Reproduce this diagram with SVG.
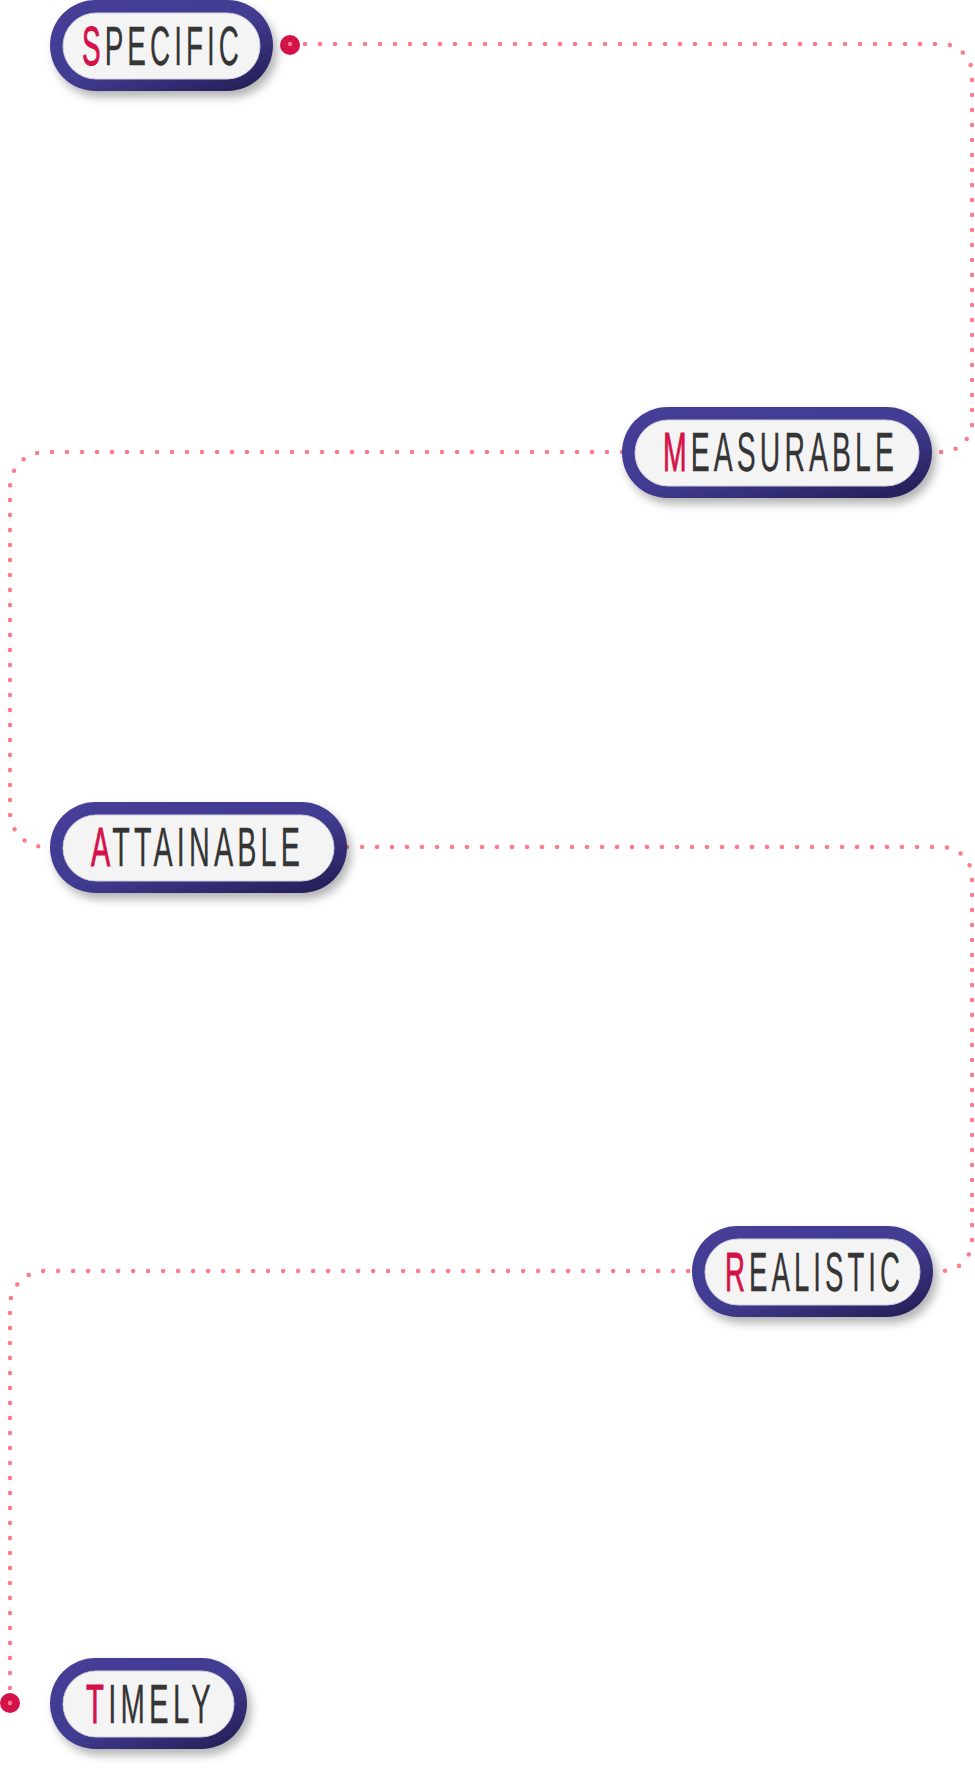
<svg xmlns="http://www.w3.org/2000/svg" width="975" height="1768" viewBox="0 0 975 1768">
<style>
.conn{fill:none;stroke:#ff7a86;stroke-width:4.5;stroke-linecap:round;stroke-dasharray:0 15}
.end{fill:#d4124a}
.ring{fill:url(#ringGrad);filter:url(#shadow)}
.inner{fill:#f4f4f5;stroke:#cfcedb;stroke-width:1}
.lbl{font-family:"Liberation Sans Narrow","Liberation Sans",sans-serif;font-size:55px;fill:#353535;stroke:#353535;stroke-width:0.3;letter-spacing:8px}
.first{fill:#d4124a;stroke:#d4124a;stroke-width:1}
</style>
<defs>
<linearGradient id="ringGrad" x1="0" y1="0" x2="0.85" y2="1">
<stop offset="0" stop-color="#453f97"/>
<stop offset="0.55" stop-color="#423c92"/>
<stop offset="1" stop-color="#26215a"/>
</linearGradient>
<filter id="shadow" x="-10%" y="-20%" width="125%" height="150%">
<feDropShadow dx="4" dy="6" stdDeviation="5" flood-color="#000" flood-opacity="0.3"/>
</filter>
</defs>
<rect width="975" height="1768" fill="#fff"/>
<g id="connectors">
<circle class="end" cx="290" cy="45" r="10"/>
<circle class="end" cx="10" cy="1703" r="10"/>
<path class="conn" d="M290,44 H942 A30,30 0 0 1 972,74 V422 A30,30 0 0 1 942,452 H900"/>
<path class="conn" d="M622,452 H45 A35,35 0 0 0 10,487 V812 A35,35 0 0 0 45,847 H80"/>
<path class="conn" d="M347,847 H942 A30,30 0 0 1 972,877 V1241 A30,30 0 0 1 942,1271 H900"/>
<path class="conn" d="M10,1703 V1306 A35,35 0 0 1 45,1271 H720"/>
</g>
<g id="specific">
<rect class="ring" x="50" y="0" width="223" height="91" rx="45.5"/>
<rect class="inner" x="63" y="13" width="197" height="66" rx="33"/>
<text class="lbl" x="82" y="65" textLength="161" lengthAdjust="spacingAndGlyphs"><tspan class="first">S</tspan>PECIFIC</text>
</g>
<g id="measurable">
<rect class="ring" x="622" y="407" width="310" height="91" rx="45.5"/>
<rect class="inner" x="635" y="420" width="284" height="66" rx="33"/>
<text class="lbl" x="663" y="471" textLength="235" lengthAdjust="spacingAndGlyphs"><tspan class="first">M</tspan>EASURABLE</text>
</g>
<g id="attainable">
<rect class="ring" x="50" y="802" width="297" height="91" rx="45.5"/>
<rect class="inner" x="63" y="815" width="271" height="66" rx="33"/>
<text class="lbl" x="91" y="866" textLength="213" lengthAdjust="spacingAndGlyphs"><tspan class="first">A</tspan>TTAINABLE</text>
</g>
<g id="realistic">
<rect class="ring" x="692" y="1226" width="241" height="91" rx="45.5"/>
<rect class="inner" x="705" y="1239" width="215" height="66" rx="33"/>
<text class="lbl" x="725" y="1291" textLength="179" lengthAdjust="spacingAndGlyphs"><tspan class="first">R</tspan>EALISTIC</text>
</g>
<g id="timely">
<rect class="ring" x="50" y="1658" width="197" height="91" rx="45.5"/>
<rect class="inner" x="63" y="1671" width="171" height="66" rx="33"/>
<text class="lbl" x="86" y="1723" textLength="129" lengthAdjust="spacingAndGlyphs"><tspan class="first">T</tspan>IMELY</text>
</g>
</svg>
